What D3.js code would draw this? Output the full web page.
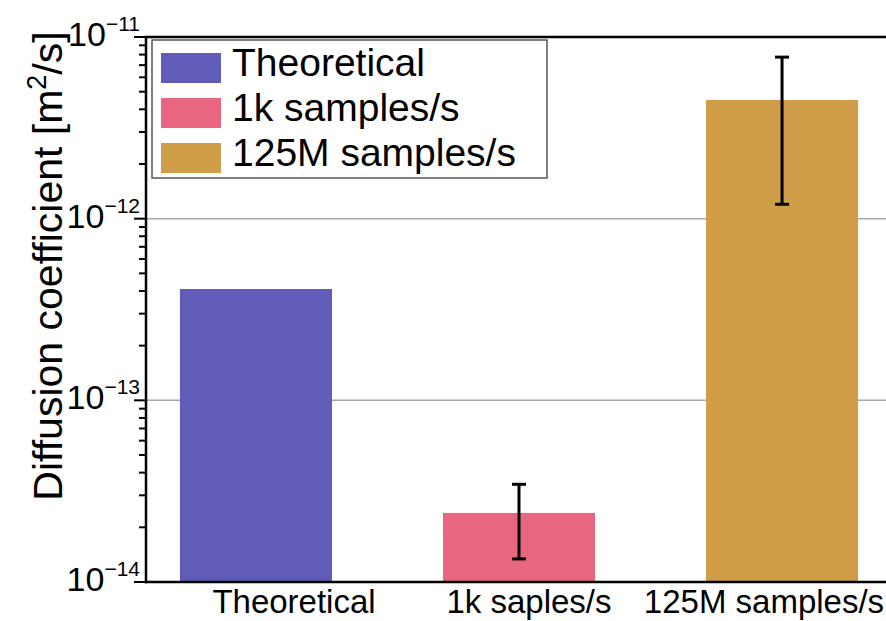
<!DOCTYPE html>
<html><head><meta charset="utf-8">
<script src="https://cdn.jsdelivr.net/npm/d3@7"></script>
<style>body{margin:0;background:#fff}svg{display:block;font-family:"Liberation Sans",Arial,sans-serif}</style>
</head><body>
<svg id="c" width="886" height="621"></svg>
<script>
const categories = ["Theoretical", "1k saples/s", "125M samples/s"];
const legendLabels = ["Theoretical", "1k samples/s", "125M samples/s"];
const values = [4.1e-13, 2.4e-14, 4.5e-12];
const errLow = [null, 1.34e-14, 1.2e-12];
const errHigh = [null, 3.45e-14, 7.75e-12];
const colors = ["#615bb9", "#e8667f", "#cf9d48"];
const majorTicks = [1e-14, 1e-13, 1e-12, 1e-11];
const majorExp = ["−14", "−13", "−12", "−11"];

(function () {
const svg = d3.select("#c");
const left = 146, bottom = 582, topY = 37;
const y = d3.scaleLog().domain([1e-14, 1e-11]).range([bottom, topY]);
const x = d3.scaleLinear().domain([-0.418, 2.418]).range([left, 892]);
const xLabel = d3.scaleLinear().domain([0, 2]).range([294, 764]);
const bw = 0.578;

// gridlines
svg.append("g").selectAll("line").data([1e-13, 1e-12]).join("line")
  .attr("x1", left).attr("x2", 886).attr("y1", d => y(d)).attr("y2", d => y(d))
  .attr("stroke", "#a8a8a8").attr("stroke-width", 1.5);

// bars
svg.append("g").selectAll("rect").data(values).join("rect")
  .attr("x", (d, i) => x(i - bw / 2)).attr("width", x(bw) - x(0))
  .attr("y", d => y(d)).attr("height", d => bottom - y(d))
  .attr("fill", (d, i) => colors[i]);

// error bars
const eg = svg.append("g").attr("stroke", "#000").attr("stroke-width", 3);
values.forEach((v, i) => {
  if (errLow[i] == null) return;
  const cx = x(i);
  eg.append("line").attr("x1", cx).attr("x2", cx).attr("y1", y(errLow[i])).attr("y2", y(errHigh[i]));
  [errLow[i], errHigh[i]].forEach(e => eg.append("line").attr("x1", cx - 7).attr("x2", cx + 7).attr("y1", y(e)).attr("y2", y(e)));
});

// y axis ticks
const minor = [];
for (let e = -14; e < -11; e++) for (let m = 2; m <= 9; m++) minor.push(m * Math.pow(10, e));
svg.append("g").selectAll("line").data(minor).join("line")
  .attr("x1", left - 7).attr("x2", left).attr("y1", d => y(d)).attr("y2", d => y(d))
  .attr("stroke", "#000").attr("stroke-width", 2);
svg.append("g").selectAll("line").data(majorTicks).join("line")
  .attr("x1", left - 12).attr("x2", left).attr("y1", d => y(d)).attr("y2", d => y(d))
  .attr("stroke", "#000").attr("stroke-width", 2);

// tick labels
const tl = svg.append("g").selectAll("text").data(majorTicks).join("text")
  .attr("x", 140).attr("y", d => y(d) + 9).attr("text-anchor", "end")
  .attr("font-size", 34).attr("fill", "#000");
tl.append("tspan").text("10");
tl.append("tspan").attr("dy", -15).attr("font-size", 21).text((d, i) => majorExp[i]);

// spines
svg.append("line").attr("x1", left).attr("x2", left).attr("y1", topY).attr("y2", bottom + 1.25).attr("stroke", "#000").attr("stroke-width", 2.5);
svg.append("line").attr("x1", left - 1.25).attr("x2", 886).attr("y1", bottom).attr("y2", bottom).attr("stroke", "#000").attr("stroke-width", 2.5);
svg.append("line").attr("x1", left - 1.25).attr("x2", 886).attr("y1", topY).attr("y2", topY).attr("stroke", "#000").attr("stroke-width", 2.5);

// x labels
svg.append("g").selectAll("text").data(categories).join("text")
  .attr("x", (d, i) => xLabel(i)).attr("y", 613).attr("text-anchor", "middle")
  .attr("font-size", 33).attr("fill", "#000").text(d => d);

// y label
const yl = svg.append("text").attr("transform", "translate(62,266) rotate(-90)")
  .attr("text-anchor", "middle").attr("font-size", 41).attr("fill", "#000");
yl.append("tspan").text("Diffusion coefficient [m");
yl.append("tspan").attr("dy", -16).attr("font-size", 27).text("2");
yl.append("tspan").attr("dy", 16).text("/s]");

// legend
const lg = svg.append("g");
lg.append("rect").attr("x", 152).attr("y", 40).attr("width", 395).attr("height", 138)
  .attr("fill", "#fff").attr("stroke", "#555").attr("stroke-width", 1.5);
legendLabels.forEach((l, i) => {
  lg.append("rect").attr("x", 161).attr("y", 53 + i * 45).attr("width", 60).attr("height", 30).attr("fill", colors[i]);
  lg.append("text").attr("x", 232).attr("y", 76 + i * 45).attr("font-size", 39).attr("fill", "#000").text(l);
});
})();
</script>
</body></html>
